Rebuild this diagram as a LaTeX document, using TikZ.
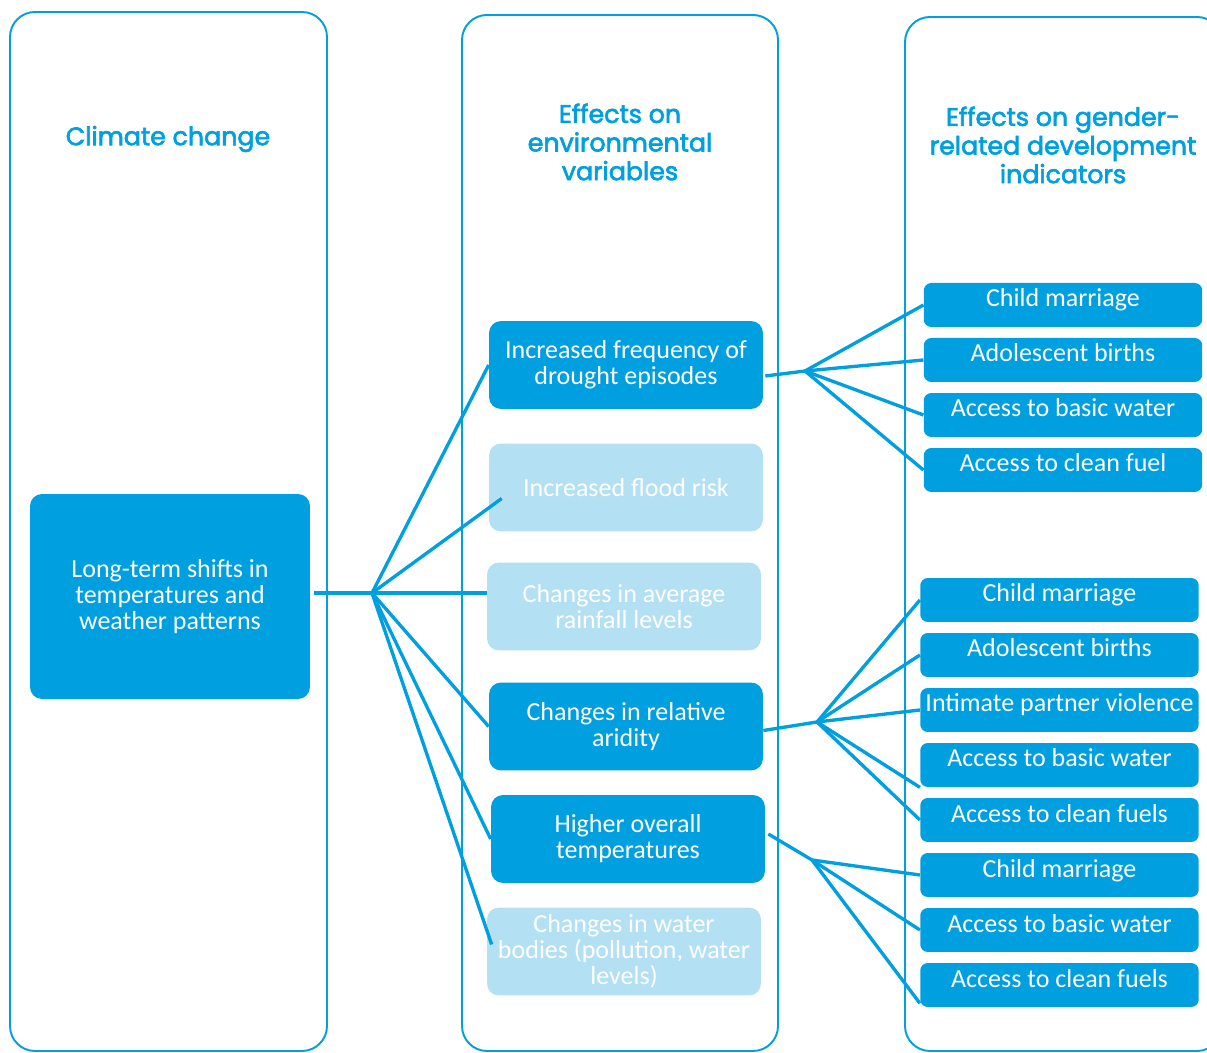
\documentclass[tikz,border=0pt]{standalone}
\usepackage{fontspec}
\setmainfont{Carlito}
\newfontfamily\headfont{Poppins}[FakeBold=2.5]
\usetikzlibrary{calc}
\definecolor{unblue}{RGB}{0,159,223}
\definecolor{unlight}{RGB}{179,225,243}
\newcommand\bodysize{\fontsize{14.8}{14.8}\selectfont}
\newcommand\headsize{\fontsize{14.4}{16.3}\selectfont}

\begin{document}
\begin{tikzpicture}[x=0.02cm, y=-0.02cm,
    column/.style={draw=unblue, line width=1.1pt, rounded corners=0.5cm},
    head/.style={text=unblue, font=\headfont\headsize, align=center},
    envbox/.style={fill=unblue, text=white, rounded corners=0.24cm,
        minimum width=5.48cm, minimum height=1.76cm, inner sep=0pt,
        align=center, font=\bodysize},
    faintbox/.style={envbox, fill=unlight},
    indbox/.style={fill=unblue, text=white, rounded corners=0.15cm,
        minimum width=5.57cm, text height=0.48cm, text depth=0.40cm,
        inner sep=0pt, font=\bodysize},
    link/.style={draw=unblue, line width=1.9pt}]
    \useasboundingbox (0, 0) rectangle (1207, 1053);

    % the three columns
    \draw [column] (10, 1051) rectangle (327, 12);
    \draw [column] (462, 1051) rectangle (778, 15);
    \draw [column] (905, 1051) rectangle (1222, 17);

    \node [head] (hclimate) at (168, 139) {Climate change};
    \node [head] (henv) at (620, 142) {Effects on\\environmental\\variables};
    \node [head] (hgender) at (1063, 145) {Effects on gender-\\related development\\indicators};

    % climate change
    \node [envbox, minimum width=5.6cm, minimum height=4.1cm] (longterm) at (170, 596.5)
        {Long-term shifts in\\temperatures and\\weather patterns};

    % environmental variables
    \node [envbox] (drought) at (626, 365) {Increased frequency of\\drought episodes};
    \node [faintbox] (flood) at (626, 487.5) {Increased flood risk};
    \node [faintbox] (rainfall) at (624, 606.5) {Changes in average\\rainfall levels};
    \node [envbox] (aridity) at (626, 726.5) {Changes in relative\\aridity};
    \node [envbox] (temps) at (628, 839) {Higher overall\\temperatures};
    \node [faintbox] (waterbody) at (624, 951.5)
        {Changes in water\\bodies (pollution, water\\levels)};

    % indicators
    \node [indbox] (marriageA) at (1063, 305) {Child marriage};
    \node [indbox] (birthsA) at (1063, 360) {Adolescent births};
    \node [indbox] (waterA) at (1063, 415) {Access to basic water};
    \node [indbox] (fuelA) at (1063, 470) {Access to clean fuel};

    \node [indbox] (marriageB) at (1059.5, 600) {Child marriage};
    \node [indbox] (birthsB) at (1059.5, 655) {Adolescent births};
    \node [indbox] (violence) at (1059.5, 710) {Intimate partner violence};
    \node [indbox] (waterB) at (1059.5, 765) {Access to basic water};
    \node [indbox] (fuelB) at (1059.5, 820) {Access to clean fuels};
    \node [indbox] (marriageC) at (1059.5, 875) {Child marriage};
    \node [indbox] (waterC) at (1059.5, 930) {Access to basic water};
    \node [indbox] (fuelC) at (1059.5, 985) {Access to clean fuels};

    % connectors
    \coordinate (hubA) at (372, 593);
    \coordinate (hubB) at (805, 371);
    \coordinate (hubC) at (817, 722);
    \coordinate (hubD) at (812, 860);

    \draw [link] ($(hubA -| longterm.east) + (4, 0)$) -- (hubA) -- (hubA -| rainfall.west);
    \draw [link] (hubA) -- (drought.west);
    \draw [link] (hubA) -- ($(flood.west) + (13, 11)$);
    \draw [link] (hubA) -- (aridity.west);
    \draw [link] (hubA) -- (temps.west);
    \draw [link] (hubA) -- ($(waterbody.west) + (5, -7)$);

    \draw [link] ($(drought.east) + (2, 11)$) -- (hubB) -- (marriageA.west);
    \draw [link] (hubB) -- (birthsA.west);
    \draw [link] (hubB) -- (waterA.west);
    \draw [link] (hubB) -- (fuelA.west);

    \draw [link] ($(aridity.east) + (0, 4)$) -- (hubC) -- (violence.west);
    \draw [link] (hubC) -- (marriageB.west);
    \draw [link] (hubC) -- (birthsB.west);
    \draw [link] (hubC) -- (waterB.south west);
    \draw [link] (hubC) -- (fuelB.west);

    \draw [link] ($(temps.east) + (3, -5)$) -- (hubD) -- (waterC.west);
    \draw [link] (hubD) -- (marriageC.west);
    \draw [link] (hubD) -- ($(fuelC.south west) + (0, -4)$);
\end{tikzpicture}
\end{document}
